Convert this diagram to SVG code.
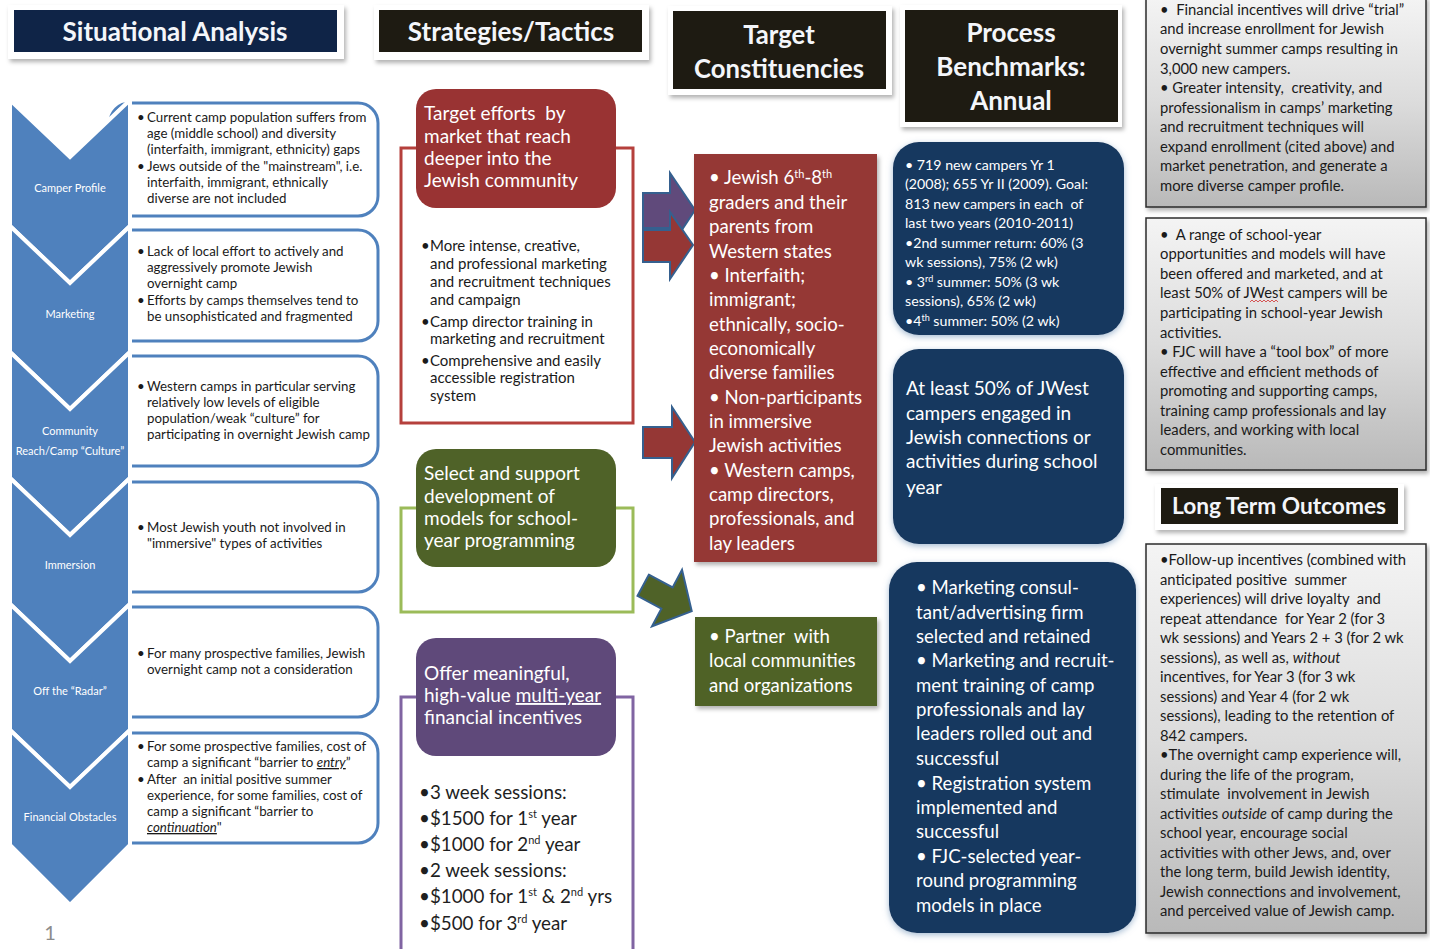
<svg xmlns="http://www.w3.org/2000/svg" width="1430" height="949" viewBox="0 0 1430 949">
<defs>
<filter id="sh" x="-10%" y="-10%" width="130%" height="130%"><feDropShadow dx="2" dy="3" stdDeviation="2" flood-color="#000" flood-opacity="0.3"/></filter>
<filter id="glow" x="-10%" y="-10%" width="120%" height="120%"><feDropShadow dx="0" dy="2" stdDeviation="3" flood-color="#6b8fb5" flood-opacity="0.6"/></filter>
<linearGradient id="gray" x1="0" y1="0" x2="0" y2="1"><stop offset="0" stop-color="#f4f4f4"/><stop offset="0.5" stop-color="#dcdcdc"/><stop offset="1" stop-color="#b9b9b9"/></linearGradient>
<style>
text{font-family:Lato,"Liberation Sans",sans-serif;white-space:pre}
.hf{fill:#fff;filter:url(#sh)}
.ht{fill:#f4f6fa;font-weight:bold;text-anchor:middle}
.chev{fill:#4f81bd;stroke:#fff;stroke-width:4;stroke-linejoin:miter}
.cl{fill:#fff;font-size:11px;text-anchor:middle}
.sb{fill:#fff;stroke:#4f81bd;stroke-width:3}
.st{fill:#1a1a1a;font-size:13.3px}
.w19{fill:#fff;font-size:19px}
.w18{fill:#fff;font-size:18.6px}
.bk{fill:#1a1a1a;font-size:15px}
.gt{fill:#1a1a1a;font-size:14.8px}
.arr{stroke:#35608f;stroke-width:2}
.br{fill:none;stroke-width:3}
</style>
</defs>
<rect width="1430" height="949" fill="#fff"/>

<g id="hdr-situational">
<rect class="hf" x="8" y="5" width="336" height="54"/>
<rect x="14" y="10" width="323" height="42" fill="#0f2447"/>
<text class="ht" x="175" y="41" font-size="26">Situational Analysis</text>
</g>
<g id="hdr-strategies">
<rect class="hf" x="374" y="5" width="275" height="55"/>
<rect x="379" y="10" width="263" height="42" fill="#1e1b12"/>
<text class="ht" x="511" y="41" font-size="26">Strategies/Tactics</text>
</g>
<g id="hdr-target">
<rect class="hf" x="668" y="6" width="224" height="89"/>
<rect x="673" y="11" width="213" height="78" fill="#1e1b12"/>
<text class="ht" x="779" y="44" font-size="25.7">Target</text>
<text class="ht" x="779" y="78" font-size="25.7">Constituencies</text>
</g>
<g id="hdr-process">
<rect class="hf" x="900" y="5" width="222" height="122"/>
<rect x="905" y="10" width="213" height="112" fill="#1e1b12"/>
<text class="ht" x="1011" y="42" font-size="26">Process</text>
<text class="ht" x="1011" y="76" font-size="26">Benchmarks:</text>
<text class="ht" x="1011" y="110" font-size="26">Annual</text>
</g>
<g id="hdr-longterm">
<rect class="hf" x="1155" y="484" width="249" height="46"/>
<rect x="1161" y="488" width="237" height="36" fill="#1e1b12"/>
<text class="ht" x="1279" y="514" font-size="22.7">Long Term Outcomes</text>
</g>

<g id="sit-boxes">
<rect class="sb" x="110" y="103" width="268" height="113" rx="20"/>
<rect class="sb" x="110" y="230" width="268" height="111" rx="20"/>
<rect class="sb" x="110" y="356" width="268" height="110" rx="20"/>
<rect class="sb" x="110" y="482" width="268" height="110" rx="20"/>
<rect class="sb" x="110" y="607" width="268" height="110" rx="20"/>
<rect class="sb" x="110" y="733" width="268" height="110" rx="20"/>
</g>

<g id="chevrons">
<path class="chev" d="M10,100 L70,157 L130,100 V226 L70,283 L10,226 Z"/>
<path class="chev" d="M10,226 L70,283 L130,226 V352 L70,409 L10,352 Z"/>
<path class="chev" d="M10,352 L70,409 L130,352 V478 L70,535 L10,478 Z"/>
<path class="chev" d="M10,478 L70,535 L130,478 V604 L70,661 L10,604 Z"/>
<path class="chev" d="M10,604 L70,661 L130,604 V730 L70,787 L10,730 Z"/>
<path class="chev" d="M10,730 L70,787 L130,730 V845 L70,905 L10,845 Z"/>
</g>

<g id="sit-camper">
<text class="cl" x="70" y="192">Camper Profile</text>
<text class="st"><tspan x="137" y="122">•</tspan><tspan x="147" y="122">Current camp population suffers from</tspan><tspan x="147" y="138">age (middle school) and diversity</tspan><tspan x="147" y="154">(interfaith, immigrant, ethnicity) gaps</tspan><tspan x="137" y="171">•</tspan><tspan x="147" y="171">Jews outside of the "mainstream", i.e.</tspan><tspan x="147" y="187">interfaith, immigrant, ethnically</tspan><tspan x="147" y="203">diverse are not included</tspan></text>
</g>
<g id="sit-marketing">
<text class="cl" x="70" y="318">Marketing</text>
<text class="st"><tspan x="137" y="256">•</tspan><tspan x="147" y="256">Lack of local effort to actively and</tspan><tspan x="147" y="272">aggressively promote Jewish</tspan><tspan x="147" y="288">overnight camp</tspan><tspan x="137" y="305">•</tspan><tspan x="147" y="305">Efforts by camps themselves tend to</tspan><tspan x="147" y="321">be unsophisticated and fragmented</tspan></text>
</g>
<g id="sit-community">
<text class="cl" x="70" y="435">Community</text>
<text class="cl" x="70" y="455">Reach/Camp “Culture”</text>
<text class="st"><tspan x="137" y="391">•</tspan><tspan x="147" y="391">Western camps in particular serving</tspan><tspan x="147" y="407">relatively low levels of eligible</tspan><tspan x="147" y="423">population/weak “culture” for</tspan><tspan x="147" y="439">participating in overnight Jewish camp</tspan></text>
</g>
<g id="sit-immersion">
<text class="cl" x="70" y="569">Immersion</text>
<text class="st"><tspan x="137" y="532">•</tspan><tspan x="147" y="532">Most Jewish youth not involved in</tspan><tspan x="147" y="548">"immersive" types of activities</tspan></text>
</g>
<g id="sit-radar">
<text class="cl" x="70" y="695">Off the “Radar”</text>
<text class="st"><tspan x="137" y="658">•</tspan><tspan x="147" y="658">For many prospective families, Jewish</tspan><tspan x="147" y="674">overnight camp not a consideration</tspan></text>
</g>
<g id="sit-financial">
<text class="cl" x="70" y="821">Financial Obstacles</text>
<text class="st"><tspan x="137" y="751">•</tspan><tspan x="147" y="751">For some prospective families, cost of</tspan><tspan x="147" y="767">camp a significant “barrier to </tspan><tspan font-style="italic" text-decoration="underline">entry</tspan><tspan>”</tspan><tspan x="137" y="784">•</tspan><tspan x="147" y="784">After  an initial positive summer</tspan><tspan x="147" y="800">experience, for some families, cost of</tspan><tspan x="147" y="816">camp a significant “barrier to</tspan><tspan x="147" y="832" font-style="italic" text-decoration="underline">continuation</tspan><tspan>"</tspan></text>
</g>
<text x="50" y="940" font-size="20" fill="#8c8c8c" text-anchor="middle">1</text>

<g id="strat-target">
<path class="br" stroke="#b5403c" d="M416,148 H401 V423 H633 V148 H616"/>
<rect x="416" y="89" width="200" height="119" rx="20" fill="#993333"/>
<text class="w19"><tspan x="424" y="120">Target efforts  by</tspan><tspan x="424" y="143">market that reach</tspan><tspan x="424" y="165">deeper into the</tspan><tspan x="424" y="187">Jewish community</tspan></text>
<text class="bk"><tspan x="421" y="251">•</tspan><tspan x="430" y="251">More intense, creative,</tspan><tspan x="430" y="269">and professional marketing</tspan><tspan x="430" y="287">and recruitment techniques</tspan><tspan x="430" y="305">and campaign</tspan><tspan x="421" y="327">•</tspan><tspan x="430" y="327">Camp director training in</tspan><tspan x="430" y="344">marketing and recruitment</tspan><tspan x="421" y="366">•</tspan><tspan x="430" y="366">Comprehensive and easily</tspan><tspan x="430" y="383">accessible registration</tspan><tspan x="430" y="401">system</tspan></text>
</g>
<g id="strat-select">
<path class="br" stroke="#9bbb59" d="M416,508 H401 V612 H633 V508 H616"/>
<rect x="416" y="449" width="200" height="118" rx="20" fill="#4f6228"/>
<text class="w19"><tspan x="424" y="480">Select and support</tspan><tspan x="424" y="503">development of</tspan><tspan x="424" y="525">models for school-</tspan><tspan x="424" y="547">year programming</tspan></text>
</g>
<g id="strat-offer">
<path class="br" stroke="#8064a2" d="M416,697 H401 V952 M633,952 V697 H616"/>
<rect x="416" y="638" width="200" height="118" rx="20" fill="#5f497a"/>
<text class="w19"><tspan x="424" y="680">Offer meaningful,</tspan><tspan x="424" y="702">high-value </tspan><tspan text-decoration="underline">multi-year</tspan><tspan x="424" y="724">financial incentives</tspan></text>
<text fill="#1f1f1f" font-size="18.8"><tspan x="419" y="799">•3 week sessions:</tspan><tspan x="419" y="825">•$1500 for 1<tspan font-size="11" dy="-7">st</tspan><tspan dy="7"> year</tspan></tspan><tspan x="419" y="851">•$1000 for 2<tspan font-size="11" dy="-7">nd</tspan><tspan dy="7"> year</tspan></tspan><tspan x="419" y="877">•2 week sessions:</tspan><tspan x="419" y="903">•$1000 for 1<tspan font-size="11" dy="-7">st</tspan><tspan dy="7"> &amp; 2</tspan><tspan font-size="11" dy="-7">nd</tspan><tspan dy="7"> yrs</tspan></tspan><tspan x="419" y="930">•$500 for 3<tspan font-size="11" dy="-7">rd</tspan><tspan dy="7"> year</tspan></tspan></text>
</g>

<g id="connectors">
<path class="arr" fill="#604a7b" d="M643,193 H670 V173 L695,210 L670,248 V228 H643 Z"/>
<path class="arr" fill="#953735" d="M643,230 H670 V212 L693,245 L670,279 V262 H643 Z"/>
<path class="arr" fill="#953735" d="M643,427 H672 V407 L695,442 L672,478 V458 H643 Z"/>
<path class="arr" fill="#4f6228" transform="translate(667,598) rotate(28)" d="M-27,-12 H0 V-32 L28,0 L0,32 V12 H-27 Z"/>
</g>

<g id="tgt-constituents">
<rect x="694" y="154" width="183" height="408" fill="#953735" filter="url(#sh)"/>
<text class="w18"><tspan x="709" y="184">• Jewish 6<tspan font-size="11" dy="-6">th</tspan><tspan dy="6">-8</tspan><tspan font-size="11" dy="-6">th</tspan></tspan><tspan x="709" y="209">graders and their</tspan><tspan x="709" y="233">parents from</tspan><tspan x="709" y="258">Western states</tspan><tspan x="709" y="282">• Interfaith;</tspan><tspan x="709" y="306">immigrant;</tspan><tspan x="709" y="331">ethnically, socio-</tspan><tspan x="709" y="355">economically</tspan><tspan x="709" y="379">diverse families</tspan><tspan x="709" y="404">• Non-participants</tspan><tspan x="709" y="428">in immersive</tspan><tspan x="709" y="452">Jewish activities</tspan><tspan x="709" y="477">• Western camps,</tspan><tspan x="709" y="501">camp directors,</tspan><tspan x="709" y="525">professionals, and</tspan><tspan x="709" y="550">lay leaders</tspan></text>
</g>
<g id="tgt-partner">
<rect x="695" y="617" width="182" height="89" fill="#4f6228" filter="url(#sh)"/>
<text class="w18"><tspan x="709" y="643">• Partner  with</tspan><tspan x="709" y="667">local communities</tspan><tspan x="709" y="692">and organizations</tspan></text>
</g>

<g id="bench-campers">
<rect x="893" y="142" width="231" height="193" rx="26" fill="#17375e" filter="url(#glow)"/>
<text fill="#fff" font-size="14.2"><tspan x="905" y="170">• 719 new campers Yr 1</tspan><tspan x="905" y="189">(2008); 655 Yr II (2009). Goal:</tspan><tspan x="905" y="209">813 new campers in each  of</tspan><tspan x="905" y="228">last two years (2010-2011)</tspan><tspan x="905" y="248">•2nd summer return: 60% (3</tspan><tspan x="905" y="267">wk sessions), 75% (2 wk)</tspan><tspan x="905" y="287">• 3<tspan font-size="9" dy="-5">rd</tspan><tspan dy="5"> summer: 50% (3 wk</tspan></tspan><tspan x="905" y="306">sessions), 65% (2 wk)</tspan><tspan x="905" y="326">•4<tspan font-size="9" dy="-5">th</tspan><tspan dy="5"> summer: 50% (2 wk)</tspan></tspan></text>
</g>
<g id="bench-jwest">
<rect x="893" y="349" width="231" height="195" rx="26" fill="#17375e" filter="url(#glow)"/>
<text class="w19"><tspan x="906" y="395">At least 50% of JWest</tspan><tspan x="906" y="420">campers engaged in</tspan><tspan x="906" y="444">Jewish connections or</tspan><tspan x="906" y="468">activities during school</tspan><tspan x="906" y="494">year</tspan></text>
</g>
<g id="bench-marketing">
<rect x="889" y="562" width="247" height="371" rx="28" fill="#17375e" filter="url(#glow)"/>
<text class="w18"><tspan x="916" y="594">• Marketing consul-</tspan><tspan x="916" y="619">tant/advertising firm</tspan><tspan x="916" y="643">selected and retained</tspan><tspan x="916" y="667">• Marketing and recruit-</tspan><tspan x="916" y="692">ment training of camp</tspan><tspan x="916" y="716">professionals and lay</tspan><tspan x="916" y="740">leaders rolled out and</tspan><tspan x="916" y="765">successful</tspan><tspan x="916" y="790">• Registration system</tspan><tspan x="916" y="814">implemented and</tspan><tspan x="916" y="838">successful</tspan><tspan x="916" y="863">• FJC-selected year-</tspan><tspan x="916" y="887">round programming</tspan><tspan x="916" y="912">models in place</tspan></text>
</g>

<g id="out-financial">
<rect x="1146" y="-3" width="280" height="210" fill="url(#gray)" stroke="#2b2b2b" stroke-width="1.5" filter="url(#sh)"/>
<text class="gt"><tspan x="1160" y="15">•  Financial incentives will drive “trial”</tspan><tspan x="1160" y="34">and increase enrollment for Jewish</tspan><tspan x="1160" y="54">overnight summer camps resulting in</tspan><tspan x="1160" y="74">3,000 new campers.</tspan><tspan x="1160" y="93">• Greater intensity,  creativity, and</tspan><tspan x="1160" y="113">professionalism in camps’ marketing</tspan><tspan x="1160" y="132">and recruitment techniques will</tspan><tspan x="1160" y="152">expand enrollment (cited above) and</tspan><tspan x="1160" y="171">market penetration, and generate a</tspan><tspan x="1160" y="191">more diverse camper profile.</tspan></text>
</g>
<g id="out-schoolyear">
<rect x="1146" y="218" width="280" height="252" fill="url(#gray)" stroke="#2b2b2b" stroke-width="1.5" filter="url(#sh)"/>
<text class="gt"><tspan x="1160" y="240">•  A range of school-year</tspan><tspan x="1160" y="259">opportunities and models will have</tspan><tspan x="1160" y="279">been offered and marketed, and at</tspan><tspan x="1160" y="298">least 50% of JWest campers will be</tspan><tspan x="1160" y="318">participating in school-year Jewish</tspan><tspan x="1160" y="338">activities.</tspan><tspan x="1160" y="357">• FJC will have a “tool box” of more</tspan><tspan x="1160" y="377">effective and efficient methods of</tspan><tspan x="1160" y="396">promoting and supporting camps,</tspan><tspan x="1160" y="416">training camp professionals and lay</tspan><tspan x="1160" y="435">leaders, and working with local</tspan><tspan x="1160" y="455">communities.</tspan></text>
<path d="M1250,302 l2,-2 l2,2 l2,-2 l2,2 l2,-2 l2,2 l2,-2 l2,2 l2,-2 l2,2 l2,-2 l2,2 l2,-2 l2,2" fill="none" stroke="#d03030" stroke-width="0.8"/>
</g>
<g id="out-longterm">
<rect x="1146" y="544" width="280" height="389" fill="url(#gray)" stroke="#2b2b2b" stroke-width="1.5" filter="url(#sh)"/>
<text class="gt"><tspan x="1160" y="565">•Follow-up incentives (combined with</tspan><tspan x="1160" y="585">anticipated positive  summer</tspan><tspan x="1160" y="604">experiences) will drive loyalty  and</tspan><tspan x="1160" y="624">repeat attendance  for Year 2 (for 3</tspan><tspan x="1160" y="643">wk sessions) and Years 2 + 3 (for 2 wk</tspan><tspan x="1160" y="663">sessions), as well as, </tspan><tspan font-style="italic">without</tspan><tspan x="1160" y="682">incentives, for Year 3 (for 3 wk</tspan><tspan x="1160" y="702">sessions) and Year 4 (for 2 wk</tspan><tspan x="1160" y="721">sessions), leading to the retention of</tspan><tspan x="1160" y="741">842 campers.</tspan><tspan x="1160" y="760">•The overnight camp experience will,</tspan><tspan x="1160" y="780">during the life of the program,</tspan><tspan x="1160" y="799">stimulate  involvement in Jewish</tspan><tspan x="1160" y="819">activities </tspan><tspan font-style="italic">outside</tspan><tspan> of camp during the</tspan><tspan x="1160" y="838">school year, encourage social</tspan><tspan x="1160" y="858">activities with other Jews, and, over</tspan><tspan x="1160" y="877">the long term, build Jewish identity,</tspan><tspan x="1160" y="897">Jewish connections and involvement,</tspan><tspan x="1160" y="916">and perceived value of Jewish camp.</tspan></text>
</g>
</svg>
